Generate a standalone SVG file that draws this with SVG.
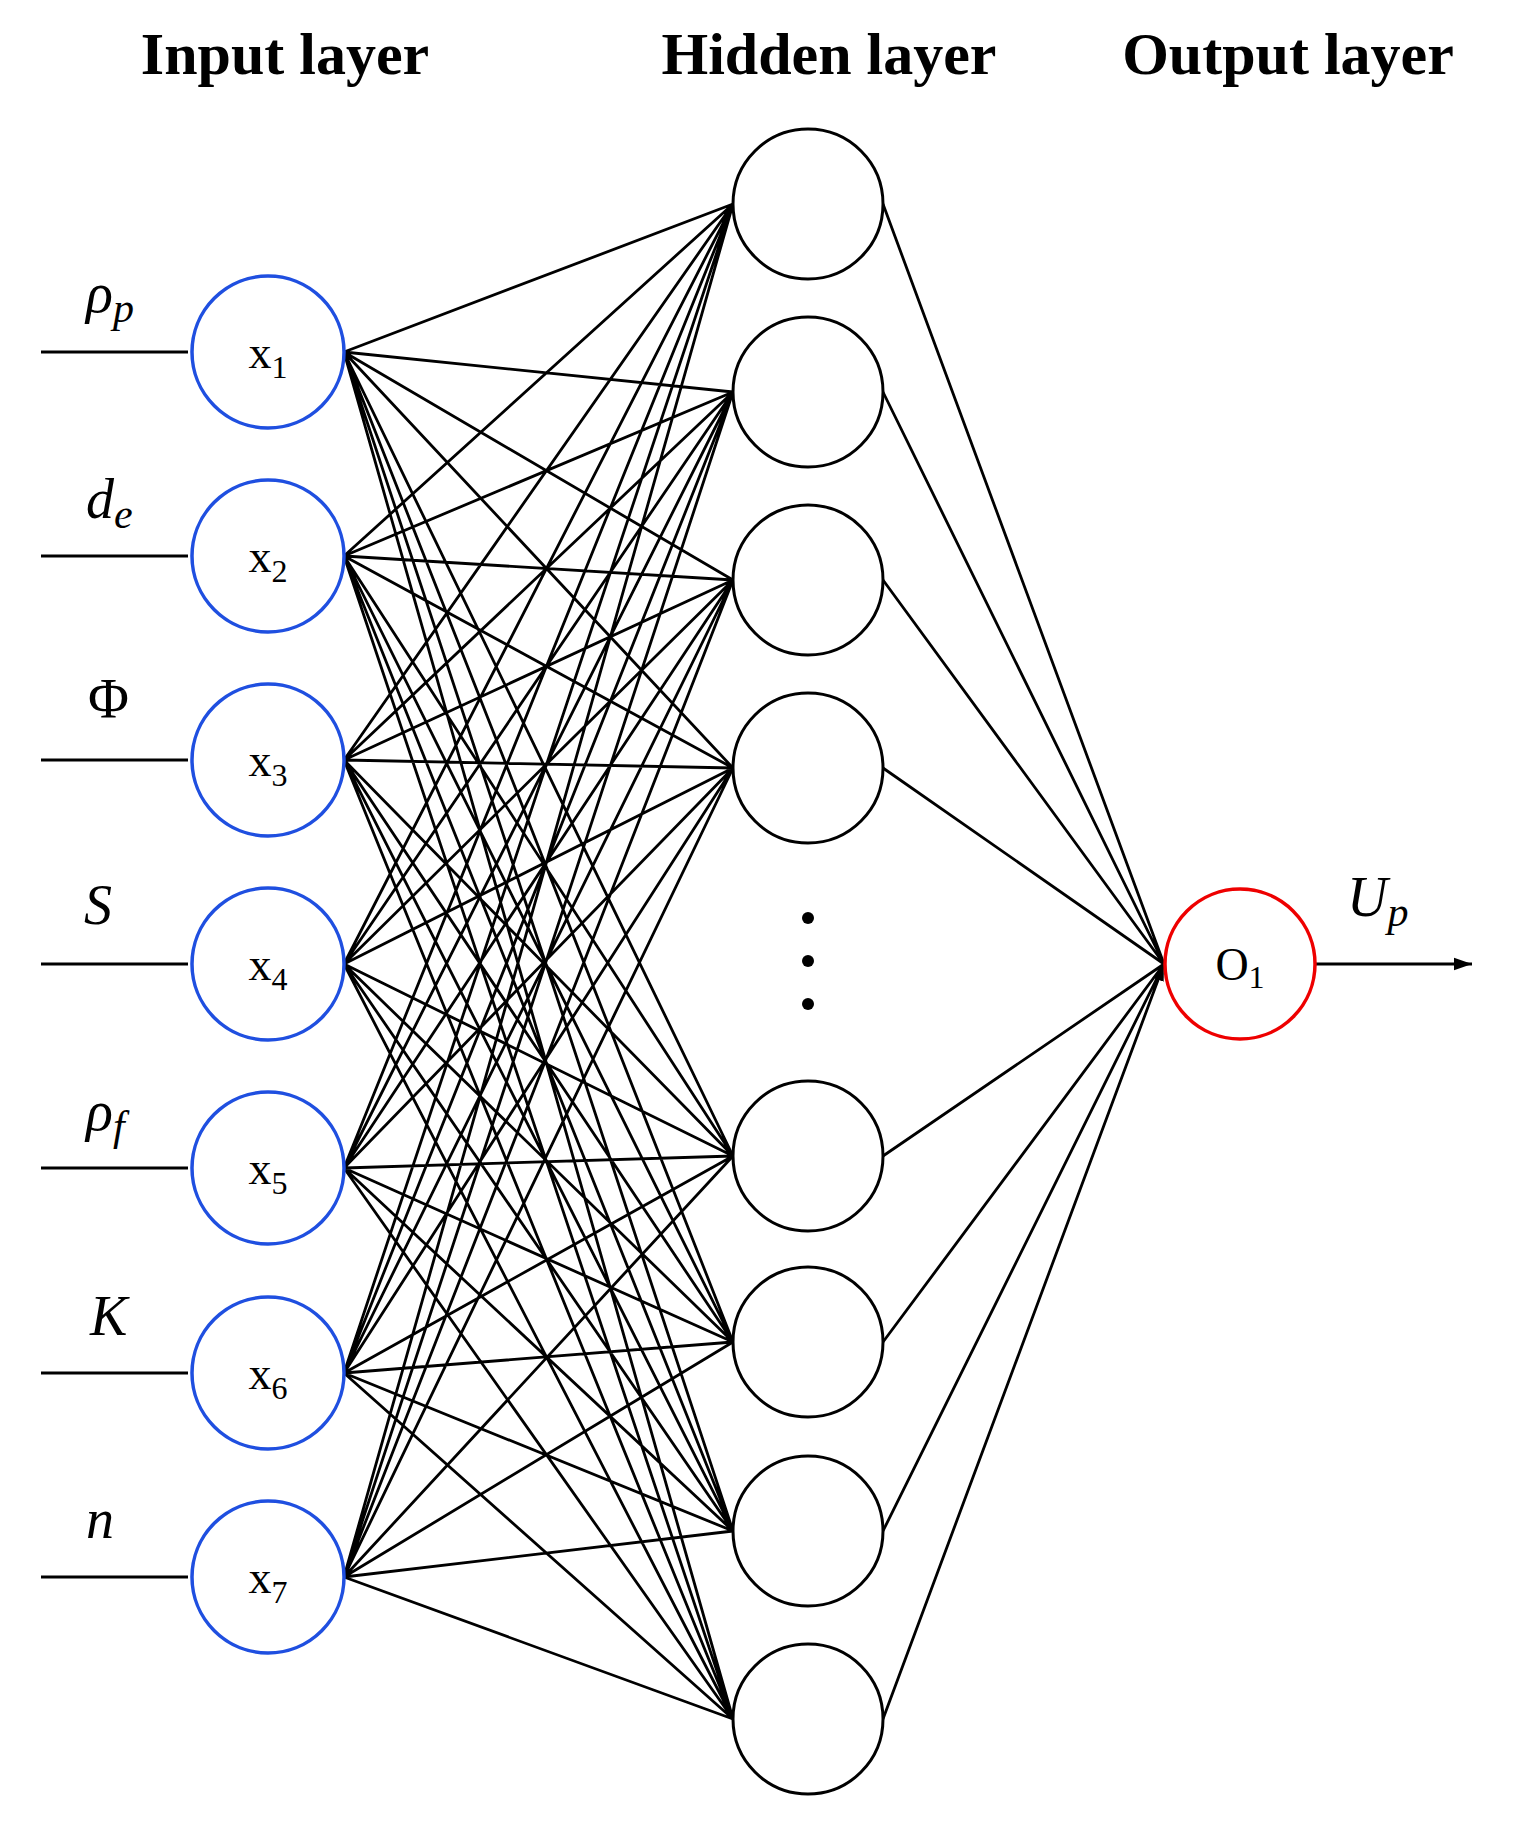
<svg xmlns="http://www.w3.org/2000/svg" width="1513" height="1835" viewBox="0 0 1513 1835">
<style>
.t{font-family:"Liberation Serif",serif;font-weight:bold;font-size:60px;text-anchor:middle}
.v{font-family:"Liberation Serif",serif;font-style:italic;font-size:56px}
.n{font-family:"Liberation Serif",serif;font-size:46px;text-anchor:middle}
.s{font-size:32px}
.e{stroke:#000;stroke-width:3;fill:none;marker-end:url(#a)}
.in{fill:#fff;stroke:#1f4fe0;stroke-width:3.5}
.hid{fill:#fff;stroke:#000;stroke-width:3}
</style>
<defs><marker id="a" viewBox="0 0 10 10" refX="10" refY="5" markerWidth="6" markerHeight="6" orient="auto" markerUnits="strokeWidth"><path d="M0,1.5L10,5L0,8.5z" fill="#000"/></marker></defs>
<rect width="1513" height="1835" fill="#fff"/>
<text class="t" x="285" y="74">Input layer</text>
<text class="t" x="829" y="74">Hidden layer</text>
<text class="t" x="1288" y="74">Output layer</text>
<g id="connectors">
<path class="e" d="M41,352H188M41,556H188M41,760H188M41,964H188M41,1168H188M41,1373H188M41,1577H188M1315,964H1472"/>
<g stroke="#000" stroke-width="2.8" marker-end="url(#a)" fill="none">
<path d="M344,352L733,204M344,352L733,392M344,352L733,580M344,352L733,768M344,352L733,1156M344,352L733,1342M344,352L733,1531M344,352L733,1719
M344,556L733,204M344,556L733,392M344,556L733,580M344,556L733,768M344,556L733,1156M344,556L733,1342M344,556L733,1531M344,556L733,1719
M344,760L733,204M344,760L733,392M344,760L733,580M344,760L733,768M344,760L733,1156M344,760L733,1342M344,760L733,1531M344,760L733,1719
M344,964L733,204M344,964L733,392M344,964L733,580M344,964L733,768M344,964L733,1156M344,964L733,1342M344,964L733,1531M344,964L733,1719
M344,1168L733,204M344,1168L733,392M344,1168L733,580M344,1168L733,768M344,1168L733,1156M344,1168L733,1342M344,1168L733,1531M344,1168L733,1719
M344,1373L733,204M344,1373L733,392M344,1373L733,580M344,1373L733,768M344,1373L733,1156M344,1373L733,1342M344,1373L733,1531M344,1373L733,1719
M344,1577L733,204M344,1577L733,392M344,1577L733,580M344,1577L733,768M344,1577L733,1156M344,1577L733,1342M344,1577L733,1531M344,1577L733,1719
M883,204L1164,964M883,392L1164,964M883,580L1164,964M883,768L1164,964M883,1156L1164,964M883,1342L1164,964M883,1531L1164,964M883,1719L1164,964"/>
</g>
</g>
<g id="inputs">
<g id="x1"><circle class="in" cx="268" cy="352" r="76"/><text class="n" x="268" y="368">x<tspan class="s" dy="10">1</tspan></text></g>
<g id="x2"><circle class="in" cx="268" cy="556" r="76"/><text class="n" x="268" y="572">x<tspan class="s" dy="10">2</tspan></text></g>
<g id="x3"><circle class="in" cx="268" cy="760" r="76"/><text class="n" x="268" y="776">x<tspan class="s" dy="10">3</tspan></text></g>
<g id="x4"><circle class="in" cx="268" cy="964" r="76"/><text class="n" x="268" y="980">x<tspan class="s" dy="10">4</tspan></text></g>
<g id="x5"><circle class="in" cx="268" cy="1168" r="76"/><text class="n" x="268" y="1184">x<tspan class="s" dy="10">5</tspan></text></g>
<g id="x6"><circle class="in" cx="268" cy="1373" r="76"/><text class="n" x="268" y="1389">x<tspan class="s" dy="10">6</tspan></text></g>
<g id="x7"><circle class="in" cx="268" cy="1577" r="76"/><text class="n" x="268" y="1593">x<tspan class="s" dy="10">7</tspan></text></g>
</g>
<g id="labels">
<text class="v" x="86" y="312">ρ<tspan font-size="42" dy="10">p</tspan></text>
<text class="v" x="86" y="518">d<tspan font-size="42" dy="10">e</tspan></text>
<text class="v" x="88" y="718" style="font-style:normal">Φ</text>
<text class="v" x="84" y="924">S</text>
<text class="v" x="86" y="1130">ρ<tspan font-size="42" dy="10">f</tspan></text>
<text class="v" x="90" y="1335">K</text>
<text class="v" x="86" y="1538">n</text>
<text class="v" x="1347" y="916">U<tspan font-size="42" dy="10">p</tspan></text>
</g>
<g id="hidden">
<circle id="h1" class="hid" cx="808" cy="204" r="75"/>
<circle id="h2" class="hid" cx="808" cy="392" r="75"/>
<circle id="h3" class="hid" cx="808" cy="580" r="75"/>
<circle id="h4" class="hid" cx="808" cy="768" r="75"/>
<circle id="h5" class="hid" cx="808" cy="1156" r="75"/>
<circle id="h6" class="hid" cx="808" cy="1342" r="75"/>
<circle id="h7" class="hid" cx="808" cy="1531" r="75"/>
<circle id="h8" class="hid" cx="808" cy="1719" r="75"/>
<circle cx="808" cy="918" r="6"/><circle cx="808" cy="961" r="6"/><circle cx="808" cy="1004" r="6"/>
</g>
<g id="o1"><circle cx="1240" cy="964" r="75" fill="#fff" stroke="#e00" stroke-width="3.5"/><text class="n" x="1240" y="980">O<tspan class="s" dy="8">1</tspan></text></g>
</svg>
